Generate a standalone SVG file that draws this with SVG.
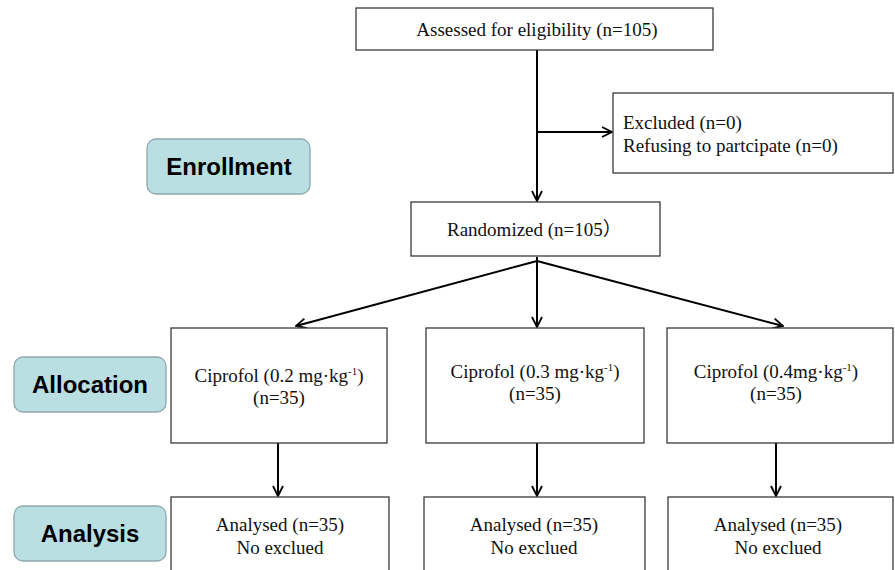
<svg xmlns="http://www.w3.org/2000/svg" width="895" height="570" viewBox="0 0 895 570">
<defs>
<marker id="arr" viewBox="0 0 12 12" refX="11" refY="6" markerWidth="12" markerHeight="12" markerUnits="userSpaceOnUse" orient="auto">
<polyline points="1,1 11,6 1,11" fill="none" stroke="#000" stroke-width="1.8"/>
</marker>
</defs>
<style>
.box{fill:#fff;stroke:#3a3a3a;stroke-width:1.3}
.lab{fill:#b9dfe2;stroke:#8ea8ab;stroke-width:1.3}
.t{font-family:"Liberation Serif","Times New Roman","Noto Sans CJK SC",serif;font-size:19px;fill:#111}
.c{text-anchor:middle}
.sup{font-size:11px}
.L{font-family:"Liberation Sans",Arial,sans-serif;font-weight:bold;font-size:24px;fill:#000;text-anchor:middle}
.ln{fill:none;stroke:#000;stroke-width:2;marker-end:url(#arr)}
</style>
<rect width="895" height="570" fill="#fff"/>
<g id="connectors">
<line class="ln" x1="537" y1="50" x2="537" y2="201"/>
<line class="ln" x1="537" y1="132" x2="612" y2="132"/>
<line class="ln" x1="537" y1="261" x2="296" y2="326"/>
<line class="ln" x1="537" y1="257" x2="537" y2="327"/>
<line class="ln" x1="537" y1="261" x2="783" y2="326"/>
<line class="ln" x1="278" y1="443" x2="278" y2="496"/>
<line class="ln" x1="537" y1="443" x2="537" y2="496"/>
<line class="ln" x1="776" y1="443" x2="776" y2="496"/>
</g>
<g id="assessed">
<rect class="box" x="356" y="8" width="357" height="42"/>
<text class="t c" x="537" y="36">Assessed for eligibility (n=105)</text>
</g>
<g id="excluded">
<rect class="box" x="613" y="93" width="280" height="80"/>
<text class="t" x="623" y="129">Excluded (n=0)</text>
<text class="t" x="623" y="152">Refusing to partcipate (n=0)</text>
</g>
<g id="randomized">
<rect class="box" x="411" y="202" width="249" height="54"/>
<text class="t" x="447" y="236">Randomized (n=105）</text>
</g>
<g id="enrollment">
<rect class="lab" x="147" y="139" width="163" height="55" rx="9"/>
<text class="L" x="229" y="175">Enrollment</text>
</g>
<g id="allocation">
<rect class="lab" x="14" y="357" width="152" height="55" rx="9"/>
<text class="L" x="90" y="393">Allocation</text>
</g>
<g id="analysis">
<rect class="lab" x="14" y="506" width="152" height="55" rx="9"/>
<text class="L" x="90" y="542">Analysis</text>
</g>
<g id="group1">
<rect class="box" x="171" y="328" width="216" height="115"/>
<text class="t c" x="279" y="382">Ciprofol (0.2 mg·kg<tspan class="sup" dy="-7">-1</tspan><tspan dy="7">)</tspan></text>
<text class="t c" x="279" y="404">(n=35)</text>
</g>
<g id="group2">
<rect class="box" x="426" y="328" width="218" height="115"/>
<text class="t c" x="535" y="378">Ciprofol (0.3 mg·kg<tspan class="sup" dy="-7">-1</tspan><tspan dy="7">)</tspan></text>
<text class="t c" x="535" y="400">(n=35)</text>
</g>
<g id="group3">
<rect class="box" x="667" y="328" width="226" height="115"/>
<text class="t c" x="776" y="378">Ciprofol (0.4mg·kg<tspan class="sup" dy="-7">-1</tspan><tspan dy="7">)</tspan></text>
<text class="t c" x="776" y="400">(n=35)</text>
</g>
<g id="analysed1">
<rect class="box" x="171" y="497" width="218" height="80"/>
<text class="t c" x="280" y="531">Analysed (n=35)</text>
<text class="t c" x="280" y="554">No exclued</text>
</g>
<g id="analysed2">
<rect class="box" x="424" y="497" width="221" height="80"/>
<text class="t c" x="534" y="531">Analysed (n=35)</text>
<text class="t c" x="534" y="554">No exclued</text>
</g>
<g id="analysed3">
<rect class="box" x="668" y="497" width="225" height="80"/>
<text class="t c" x="778" y="531">Analysed (n=35)</text>
<text class="t c" x="778" y="554">No exclued</text>
</g>
</svg>
